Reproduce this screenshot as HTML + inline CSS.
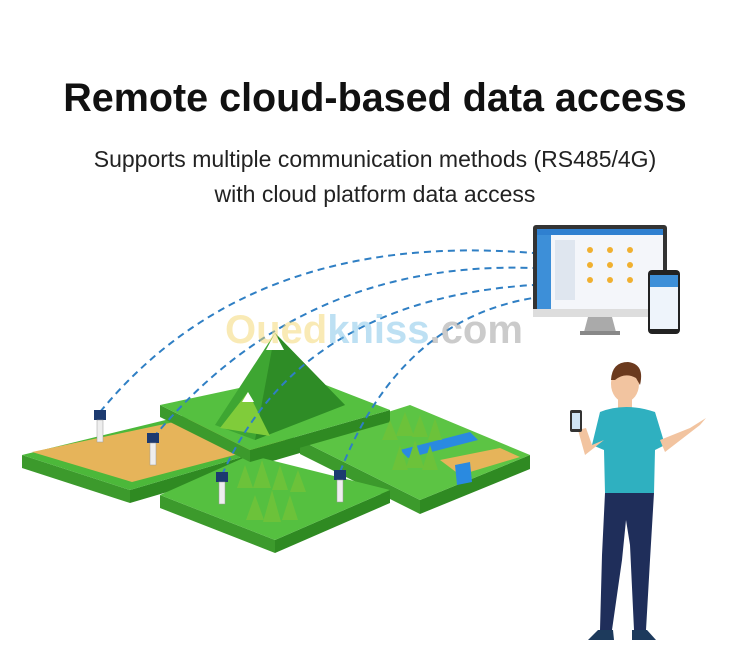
<!DOCTYPE html>
<html><head><meta charset="utf-8"><style>
body{margin:0;width:750px;height:655px;background:#fff;overflow:hidden;position:relative;font-family:"Liberation Sans",Arial,sans-serif}
.t{position:absolute;left:0;width:750px;text-align:center;color:#111}
</style></head><body>
<div class="t" style="top:76px;font-size:39.5px;font-weight:bold">Remote cloud-based data access</div>
<div class="t" style="top:146px;font-size:23px;color:#222">Supports multiple communication methods (RS485/4G)</div>
<div class="t" style="top:181px;font-size:23px;color:#222">with cloud platform data access</div>
<svg width="750" height="655" style="position:absolute;left:0;top:0">
<!-- left tile -->
<polygon points="22,455 130,490 130,503 22,468" fill="#3c9a2c"/>
<polygon points="130,490 300,440 300,453 130,503" fill="#2f8a22"/>
<polygon points="22,455 215,408 300,440 130,490" fill="#4cb83a"/>
<polygon points="32,452 212,414 288,441 132,482" fill="#e6b45a"/>
<!-- right tile -->
<polygon points="300,440 420,500 420,514 300,454" fill="#3c9a2c"/>
<polygon points="420,500 530,455 530,469 420,514" fill="#2f8a22"/>
<polygon points="300,440 410,405 530,455 420,500" fill="#5cc444"/>
<polygon points="440,460 500,448 520,457 460,475" fill="#e6b45a"/>
<polygon points="400,450 470,432 478,440 408,458" fill="#2a8ae0"/>
<polygon points="455,465 470,462 472,482 457,485" fill="#2a8ae0"/>
<!-- front tile -->
<polygon points="160,495 275,540 275,553 160,508" fill="#3c9a2c"/>
<polygon points="275,540 390,490 390,503 275,553" fill="#2f8a22"/>
<polygon points="160,495 250,455 390,490 275,540" fill="#55c040"/>
<!-- mountain tile -->
<polygon points="160,405 250,450 250,462 160,417" fill="#3c9a2c"/>
<polygon points="250,450 390,410 390,422 250,462" fill="#2f8a22"/>
<polygon points="160,405 300,375 390,410 250,450" fill="#55c040"/>
<polygon points="275,333 215,425 255,440 345,405" fill="#3ea632"/>
<polygon points="275,333 255,440 345,405" fill="#2e8c26"/>
<polygon points="248,392 220,428 270,436" fill="#80cc3a"/>
<polygon points="275,333 266,350 284,350" fill="#fff"/>
<polygon points="248,392 242,402 254,402" fill="#fff"/>
<!-- trees -->
<g fill="#6cc23a">
<polygon points="390,420 382,440 398,440"/><polygon points="405,412 396,436 414,436"/><polygon points="420,415 412,437 428,437"/><polygon points="435,418 428,440 442,440"/>
<polygon points="400,445 392,470 408,470"/><polygon points="415,440 406,468 424,468"/><polygon points="430,445 422,470 438,470"/>
<polygon points="245,465 237,488 253,488"/><polygon points="262,460 253,488 271,488"/><polygon points="280,465 272,490 288,490"/><polygon points="298,470 290,492 306,492"/>
<polygon points="255,495 246,520 264,520"/><polygon points="272,490 263,522 281,522"/><polygon points="290,495 282,520 298,520"/>
</g>
<!-- arcs -->
<g fill="none" stroke="#2f7fc4" stroke-width="2" stroke-dasharray="7,5">
<path d="M100,412 Q250,230 533,253"/>
<path d="M153,438 Q300,260 533,268"/>
<path d="M222,475 Q300,300 533,285"/>
<path d="M340,472 Q400,320 533,298"/>
</g>
<!-- sensors -->
<g>
<rect x="94" y="410" width="12" height="10" fill="#1c3a70"/><rect x="97" y="420" width="6" height="22" fill="#eee" stroke="#999" stroke-width=".5"/>
<rect x="147" y="433" width="12" height="10" fill="#1c3a70"/><rect x="150" y="443" width="6" height="22" fill="#eee" stroke="#999" stroke-width=".5"/>
<rect x="216" y="472" width="12" height="10" fill="#1c3a70"/><rect x="219" y="482" width="6" height="22" fill="#eee" stroke="#999" stroke-width=".5"/>
<rect x="334" y="470" width="12" height="10" fill="#1c3a70"/><rect x="337" y="480" width="6" height="22" fill="#eee" stroke="#999" stroke-width=".5"/>
</g>
<!-- watermark -->
<text x="225" y="343" font-size="40" font-weight="bold" fill="#f5d76e" opacity=".5" font-family="Liberation Sans">Oued<tspan fill="#7ec3e8">kniss</tspan><tspan fill="#999">.com</tspan></text>
<!-- monitor -->
<rect x="533" y="225" width="134" height="92" rx="3" fill="#333"/>
<rect x="537" y="229" width="126" height="80" fill="#f4f6fa"/>
<rect x="537" y="229" width="126" height="6" fill="#2f80d0"/>
<rect x="537" y="235" width="14" height="74" fill="#3d8fd8"/>
<rect x="555" y="240" width="20" height="60" fill="#dfe6ef"/>
<g fill="#f0b030"><circle cx="590" cy="250" r="3"/><circle cx="610" cy="250" r="3"/><circle cx="630" cy="250" r="3"/><circle cx="590" cy="265" r="3"/><circle cx="610" cy="265" r="3"/><circle cx="630" cy="265" r="3"/><circle cx="590" cy="280" r="3"/><circle cx="610" cy="280" r="3"/><circle cx="630" cy="280" r="3"/></g>
<rect x="533" y="309" width="134" height="8" fill="#ddd"/>
<polygon points="588,317 612,317 616,332 584,332" fill="#aaa"/>
<rect x="580" y="331" width="40" height="4" fill="#888"/>
<!-- phone -->
<rect x="648" y="270" width="32" height="64" rx="4" fill="#222"/>
<rect x="650" y="275" width="28" height="54" fill="#eef4fb"/>
<rect x="650" y="275" width="28" height="12" fill="#3d8fd8"/>
<!-- person -->
<ellipse cx="625" cy="384" rx="14" ry="18" fill="#f2c4a0"/>
<path d="M611,380 Q612,362 628,362 Q645,364 640,385 L636,378 Q625,372 615,380Z" fill="#6b3a1e"/>
<rect x="618" y="398" width="14" height="14" fill="#f2c4a0"/>
<path d="M600,412 Q625,402 655,412 L665,445 L655,450 L654,493 L605,493 L604,450 L592,445Z" fill="#2fb0c0"/>
<path d="M604,440 L585,455 L578,430 L586,428 L592,445" fill="#f2c4a0"/>
<path d="M660,440 L690,428 L706,418 L700,425 L665,452Z" fill="#f2c4a0"/>
<rect x="570" y="410" width="12" height="22" rx="2" fill="#333"/><rect x="572" y="413" width="8" height="16" fill="#cfe4f5"/>
<path d="M605,493 L654,493 L650,560 L646,630 L634,630 L630,545 L626,520 L622,560 L612,630 L600,630 L602,555Z" fill="#1f2e5a"/>
<path d="M598,630 L613,630 L614,640 L588,640Z" fill="#1d3a5c"/>
<path d="M632,630 L647,630 L656,640 L632,640Z" fill="#1d3a5c"/>
</svg>
</body></html>
